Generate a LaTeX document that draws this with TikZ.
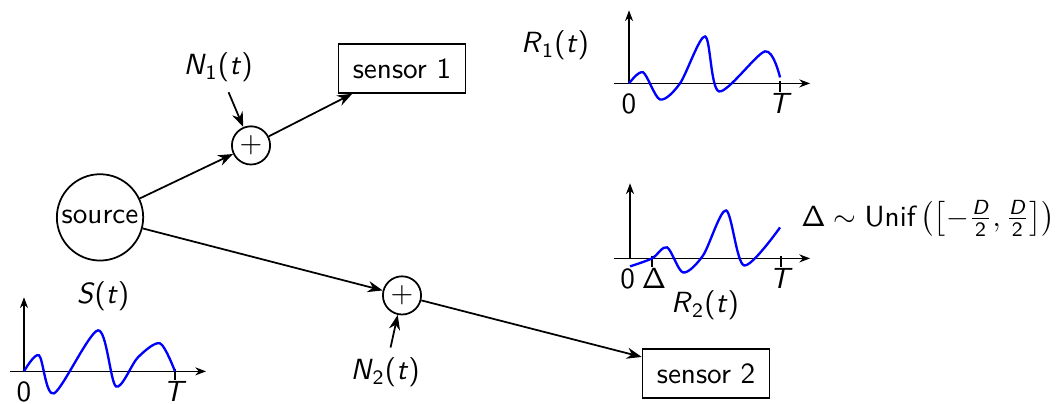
\documentclass[tikz,border=0pt]{standalone}
\usepackage{amsmath,amssymb}
\usetikzlibrary{arrows.meta,positioning}
\renewcommand{\familydefault}{\sfdefault}
% sans italic variable
\newcommand{\sv}[1]{\text{\textit{#1}}}

\begin{document}
\begin{tikzpicture}[
    sum/.style={circle, draw, semithick, inner sep=0pt, minimum size=0.46cm},
    sensorbox/.style={rectangle, draw, semithick, minimum width=1.53cm, minimum height=0.59cm},
    arr/.style={semithick, -{Stealth[length=1.8mm]}},
    axis/.style={thin, -{Stealth[length=1.3mm]}},
    sig/.style={blue, thick}
  ]
  \useasboundingbox (0,0) rectangle (12.77,4.86);
  % blocks
  \node[circle, draw, semithick, inner sep=0pt, minimum size=1.04cm] (src) at (1.205,2.241) {source};
  \node[sum] (p1) at (3.024,3.108) {$+$};
  \node[sum] (p2) at (4.843,1.301) {$+$};
  \node[sensorbox] (s1) at (4.843,4.036) {sensor 1};
  \node[sensorbox] (s2) at (8.506,0.361) {sensor 2};
  \node (n1) at (2.627,4.048) {\textit{N}\textsubscript{1}(\textit{t})};
  \node (n2) at (4.639,0.373) {\textit{N}\textsubscript{2}(\textit{t})};
  \draw[arr] (src) -- (p1);
  \draw[arr] (p1) -- (s1);
  \draw[arr] (src) -- (p2);
  \draw[arr] (p2) -- (s2);
  \draw[arr] (n1) -- (p1);
  \draw[arr] (n2) -- (p2);
  % source signal
  \node (st) at (1.241,1.289) {\textit{S}(\textit{t})};
  \begin{scope}[shift={(0.289,0.386)}]
    \draw[axis] (-0.169,0) -- (2.193,0);
    \draw[axis] (0,0) -- (0,0.892);
    \draw (1.819,0.03) -- (1.819,-0.1);
    \node[below] (s0) at (0,0) {0};
    \node[below] (sT) at (1.819,0) {\textit{T}};
    \draw[sig] plot[smooth] coordinates {(0,0) (0.181,0.193) (0.361,-0.265) (0.892,0.494) (1.108,-0.181) (1.373,0.169) (1.639,0.337) (1.819,0)};
  \end{scope}
  % received signal 1
  \node (r1) at (6.687,4.313) {\textit{R}\textsubscript{1}(\textit{t})};
  \begin{scope}[shift={(7.578,3.855)}]
    \draw[axis] (-0.181,0) -- (2.181,0);
    \draw[axis] (0,0) -- (0,0.88);
    \draw (1.819,0.03) -- (1.819,-0.1);
    \node[below] (a0) at (0,0) {0};
    \node[below] (aT) at (1.819,0) {\textit{T}};
    \draw[sig] plot[smooth] coordinates {(0,0) (0.169,0.133) (0.373,-0.193) (0.614,0) (0.916,0.566) (1.084,-0.096) (1.639,0.386) (1.819,0.072)};
  \end{scope}
  % received signal 2
  \node (r2) at (8.494,1.181) {\textit{R}\textsubscript{2}(\textit{t})};
  \begin{scope}[shift={(7.590,1.747)}]
    \draw[axis] (-0.193,0) -- (2.169,0);
    \draw[axis] (0,0) -- (0,0.904);
    \draw (0.265,0.03) -- (0.265,-0.1);
    \draw (1.819,0.03) -- (1.819,-0.1);
    \node[below] (b0) at (-0.03,0) {0};
    \node[below] (bd) at (0.29,0) {$\mathsf{\Delta}$};
    \node[below] (bT) at (1.819,0) {\textit{T}};
    \draw[sig] plot[smooth] coordinates {(0,-0.096) (0.265,0) (0.446,0.133) (0.639,-0.169) (0.88,0.036) (1.157,0.578) (1.373,-0.084) (1.807,0.373)};
  \end{scope}
  \node (delay) at (11.181,2.229) {$\mathsf{\Delta}\sim\text{Unif}\left(\left[-\frac{\sv{D}}{\text{2}},\frac{\sv{D}}{\text{2}}\right]\right)$};
\end{tikzpicture}
\end{document}
